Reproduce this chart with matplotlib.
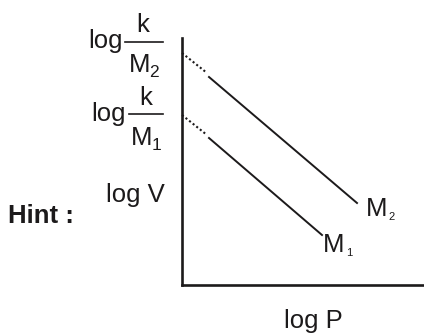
import numpy as np
import matplotlib
matplotlib.use("Agg")
import matplotlib.pyplot as plt

plt.rcParams['font.family'] = ['Liberation Sans', 'DejaVu Sans']

ink = '#1c1a1b'
fs = 18.5

# line segments (log P, log V), arbitrary units, origin at the axes corner
m2_dot_x = [0, 25]
m2_dot_y = [232, 212]
m2_x = [27, 175]
m2_y = [208, 82]
m1_dot_x = [0, 25]
m1_dot_y = [170, 150]
m1_x = [27, 140]
m1_y = [147, 50]

xlabel = 'log P'
ylabel = 'log V'
hint = 'Hint :'

fig = plt.figure(figsize=(4.24, 3.34), dpi=100)
ax = fig.add_axes([182/424, 49/334, 242/424, 247/334])
ax.set_xlim(0, 242)
ax.set_ylim(0, 247)
for s in ['top', 'right']:
    ax.spines[s].set_visible(False)
for s in ['left', 'bottom']:
    ax.spines[s].set_linewidth(1.9)
    ax.spines[s].set_color(ink)
ax.set_xticks([])
ax.set_yticks([])
ax.patch.set_alpha(0)

ax.plot(m2_dot_x, m2_dot_y, color=ink, lw=1.5, ls=(0, (1, 1.2)), clip_on=False)
ax.plot(m2_x, m2_y, color=ink, lw=1.4, clip_on=False)
ax.plot(m1_dot_x, m1_dot_y, color=ink, lw=1.5, ls=(0, (1, 1.2)), clip_on=False)
ax.plot(m1_x, m1_y, color=ink, lw=1.4, clip_on=False)

def t(x, y, s, size=fs, **kw):
    ax.text(x, y, s, fontsize=size, color=ink, ha='left', va='baseline',
            clip_on=False, **kw)

# log k/M2
t(-94, 237, 'log')
ax.plot([-57, -19], [243, 243], color=ink, lw=1.2, clip_on=False)
ax.text(-39, 253, 'k', fontsize=fs, color=ink, ha='center', va='baseline')
t(-53, 213, 'M')
t(-33, 208, '2', size=12.5)

# log k/M1
t(-91, 164, 'log')
ax.plot([-53, -19], [171, 171], color=ink, lw=1.2, clip_on=False)
ax.text(-36, 180, 'k', fontsize=fs, color=ink, ha='center', va='baseline')
t(-51, 140, 'M')
t(-30, 135, '1', size=12.5)

t(-76, 83, ylabel)
t(-174, 62, hint, fontweight='bold')
t(102, -43, xlabel)

# curve labels
t(184, 69, 'M')
t(206, 65, '2', size=8)
t(141, 33, 'M')
t(164, 29, '1', size=8)

fig.savefig('out.png', dpi=100)
